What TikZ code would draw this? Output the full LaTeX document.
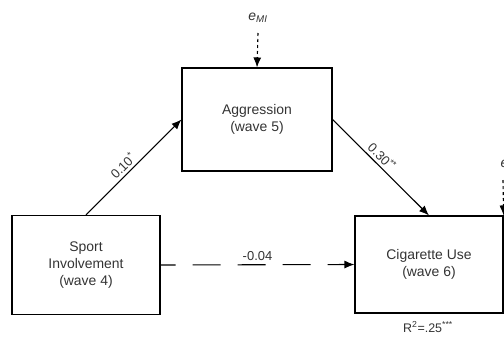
\documentclass[tikz,border=0pt]{standalone}
\usepackage{fontspec}
\setmainfont{Liberation Sans}
\usetikzlibrary{arrows.meta}

\tikzset{
  varbox/.style={draw, line width=1.1bp, align=center, text=black!80,
    font=\fontsize{14}{17.5}\selectfont, inner sep=0pt},
  path/.style={line width=1.1bp, -{Latex[length=10bp,width=8bp]}},
  coef/.style={text=black!80, font=\fontsize{13}{15}\selectfont, sloped, above, inner sep=3bp},
  err/.style={line width=1.1bp, dash pattern=on 3bp off 3bp, -{Latex[length=10bp,width=8bp]}}
}

\begin{document}
\begin{tikzpicture}[x=1bp,y=-1bp]
 \useasboundingbox (0,0) rectangle (504,337);

 \node[varbox, minimum width=148bp, minimum height=99bp] (sport) at (86,265) {Sport\\Involvement\\(wave 4)};
 \node[varbox, minimum width=150bp, minimum height=103bp] (aggr) at (257,119.5) {Aggression\\(wave 5)};
 \node[varbox, minimum width=148bp, minimum height=97bp] (cig) at (429,264.5) {Cigarette Use\\(wave 6)};

 % error terms
 \node[text=black!80, font=\fontsize{14}{16}\selectfont\itshape] (emi) at (258,18) {e\textsubscript{MI}};
 \coordinate (emitop) at (258,33);
 \draw[err] (emitop) -- (aggr.north);
 \node[text=black!80, font=\fontsize{14}{16}\selectfont\itshape, anchor=west] (eco) at (497,164) {e};
 \coordinate (ecotop) at (503,180);
 \draw[err] (ecotop) -- (cig.north east);

 % paths
 \draw[path] (sport.north) -- node[coef, pos=.45] {0.10\textsuperscript{*}} (aggr.west);
 \draw[path] (aggr.east) -- node[coef, pos=.45] {0.30\textsuperscript{**}} (cig.north);
 \draw[path, dash pattern=on 28bp off 17bp, dash phase=13bp] (sport.east) -- node[text=black!80, font=\fontsize{13}{15}\selectfont, above, inner sep=4bp] {-0.04} (cig.west);

 \node[text=black!80, font=\fontsize{12.5}{15}\selectfont] (rsq) at (428,327) {R\textsuperscript{2}=.25\textsuperscript{***}};
\end{tikzpicture}
\end{document}
